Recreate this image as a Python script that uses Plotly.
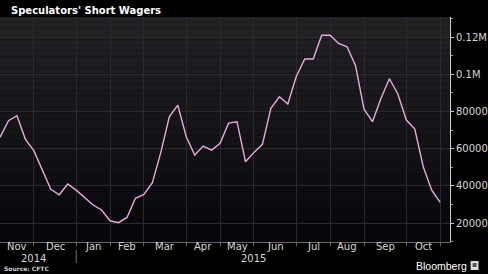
import plotly.graph_objects as go

title = "Speculators' Short Wagers"
source = "Source: CFTC"

dates = ["2014-11-04","2014-11-11","2014-11-18","2014-11-25",
         "2014-12-02","2014-12-09","2014-12-16","2014-12-23","2014-12-30",
         "2015-01-06","2015-01-13","2015-01-20","2015-01-27",
         "2015-02-03","2015-02-10","2015-02-17","2015-02-24",
         "2015-03-03","2015-03-10","2015-03-17","2015-03-24","2015-03-31",
         "2015-04-07","2015-04-14","2015-04-21","2015-04-28",
         "2015-05-05","2015-05-12","2015-05-19","2015-05-26",
         "2015-06-02","2015-06-09","2015-06-16","2015-06-23","2015-06-30",
         "2015-07-07","2015-07-14","2015-07-21","2015-07-28",
         "2015-08-04","2015-08-11","2015-08-18","2015-08-25",
         "2015-09-01","2015-09-08","2015-09-15","2015-09-22","2015-09-29",
         "2015-10-06","2015-10-13","2015-10-20","2015-10-27",
         "2015-11-03"]

short_wagers = [66100, 75000, 77700, 65000,
                58900, 48500, 38100, 35200, 41000,
                37700, 33800, 29700, 27000,
                21200, 20200, 23000, 33300,
                35400, 41700, 58000, 77100, 83400,
                66400, 56600, 61400, 59200,
                62900, 73700, 74500, 53000,
                58000, 62300, 81700, 87900, 84000,
                98800, 108200, 108200, 121000,
                121000, 116600, 114800, 104600,
                81200, 74500, 87000, 97600, 89400,
                75400, 70500, 50300, 37700,
                31100]

month_names = ["Jan","Feb","Mar","Apr","May","Jun","Jul","Aug","Sep","Oct","Nov","Dec"]
y_tickvals = [20000, 40000, 60000, 80000, 100000, 120000]
y_ticktext = ["20000", "40000", "60000", "80000", "0.1M", "0.12M"]

W, H = 488, 274
ML, MR, MT, MB = 0, 30, 17, 32
PW, PH = W - ML - MR, H - MT - MB


def px(xp):
    return (xp - ML) / PW


def py(yp):
    return (H - MB - yp) / PH


x = list(range(len(dates)))

month_starts = [i for i, d in enumerate(dates) if i == 0 or d[:7] != dates[i - 1][:7]]
year_starts = [i for i, d in enumerate(dates) if i > 0 and d[:4] != dates[i - 1][:4]]

fig = go.Figure()
fig.add_trace(go.Scatter(
    x=x, y=short_wagers, mode="lines", text=dates,
    line=dict(color="#eaa9da", width=1.4),
    hovertemplate="%{text}: %{y}<extra></extra>",
))

shapes = []
nb = 40
top = (0x22, 0x22, 0x25)
bot = (0x07, 0x06, 0x0b)
for k in range(nb):
    t = k / (nb - 1)
    c = tuple(int(round(bot[j] + (top[j] - bot[j]) * t)) for j in range(3))
    shapes.append(dict(type="rect", xref="paper", yref="paper",
                       x0=0, x1=1, y0=k / nb, y1=(k + 1) / nb,
                       fillcolor="rgb(%d,%d,%d)" % c, line=dict(width=0),
                       layer="below"))
for ys in year_starts:
    shapes.append(dict(type="line", xref="x", yref="paper", x0=ys, x1=ys,
                       y0=py(250), y1=py(263), line=dict(color="#777777", width=1)))
shapes += [
    dict(type="rect", xref="paper", yref="paper",
         x0=px(479), x1=px(487), y0=py(270), y1=py(261),
         fillcolor="#dcdcdc", line=dict(width=0)),
    dict(type="rect", xref="paper", yref="paper",
         x0=px(481), x1=px(485), y0=py(267), y1=py(263),
         fillcolor="#555555", line=dict(width=0)),
]

annotations = []
for a, b in zip(month_starts[:-1], month_starts[1:]):
    m = int(dates[a][5:7])
    annotations.append(dict(x=(a + b) / 2, y=py(247), xref="x", yref="paper",
                            yanchor="middle", xanchor="center",
                            text=month_names[m - 1], showarrow=False,
                            font=dict(size=10, color="#d6d6d6", family="DejaVu Sans")))
bounds = [0] + year_starts + [len(dates) - 1]
for a, b in zip(bounds[:-1], bounds[1:]):
    annotations.append(dict(x=(a + b) / 2 - 0.5, y=py(258), xref="x", yref="paper",
                            yanchor="middle", xanchor="center",
                            text=dates[a][:4], showarrow=False,
                            font=dict(size=10, color="#d6d6d6", family="DejaVu Sans")))

annotations.append(dict(x=px(9), y=py(10), xref="paper", yref="paper",
                        xanchor="left", yanchor="middle", showarrow=False,
                        text="<b>" + title + "</b>",
                        font=dict(size=10, color="#ffffff", family="DejaVu Sans")))
annotations.append(dict(x=px(2), y=py(268), xref="paper", yref="paper",
                        xanchor="left", yanchor="middle", showarrow=False,
                        text="<b>" + source + "</b>",
                        font=dict(size=6, color="#cfcfcf", family="DejaVu Sans")))
annotations.append(dict(x=px(477), y=py(266), xref="paper", yref="paper",
                        xanchor="right", yanchor="middle", showarrow=False,
                        text="Bloomberg",
                        font=dict(size=10.5, color="#ffffff", family="Liberation Sans")))

fig.update_layout(
    width=W, height=H,
    margin=dict(l=ML, r=MR, t=MT, b=MB),
    paper_bgcolor="#000000",
    plot_bgcolor="#000000",
    showlegend=False,
    shapes=shapes,
    annotations=annotations,
    xaxis=dict(
        range=[0, 53.16], tickmode="array", tickvals=month_starts[1:],
        showticklabels=False, ticks="outside", ticklen=3, tickcolor="#666666",
        showgrid=True, gridcolor="#2a2a2e", gridwidth=1,
        showline=True, linecolor="#666666", linewidth=1, zeroline=False,
    ),
    yaxis=dict(
        side="right", range=[9800, 130800], tickmode="array",
        tickvals=y_tickvals, ticktext=y_ticktext,
        ticks="outside", ticklen=3, tickcolor="#cccccc",
        tickfont=dict(size=10, color="#d6d6d6", family="DejaVu Sans"),
        showgrid=True, gridcolor="#2a2a2e", gridwidth=1,
        showline=True, linecolor="#cccccc", linewidth=1, zeroline=False,
        minor=dict(dtick=10000, ticks="outside", ticklen=2, tickcolor="#999999", showgrid=False),
    ),
)

fig.write_html("out.html")
